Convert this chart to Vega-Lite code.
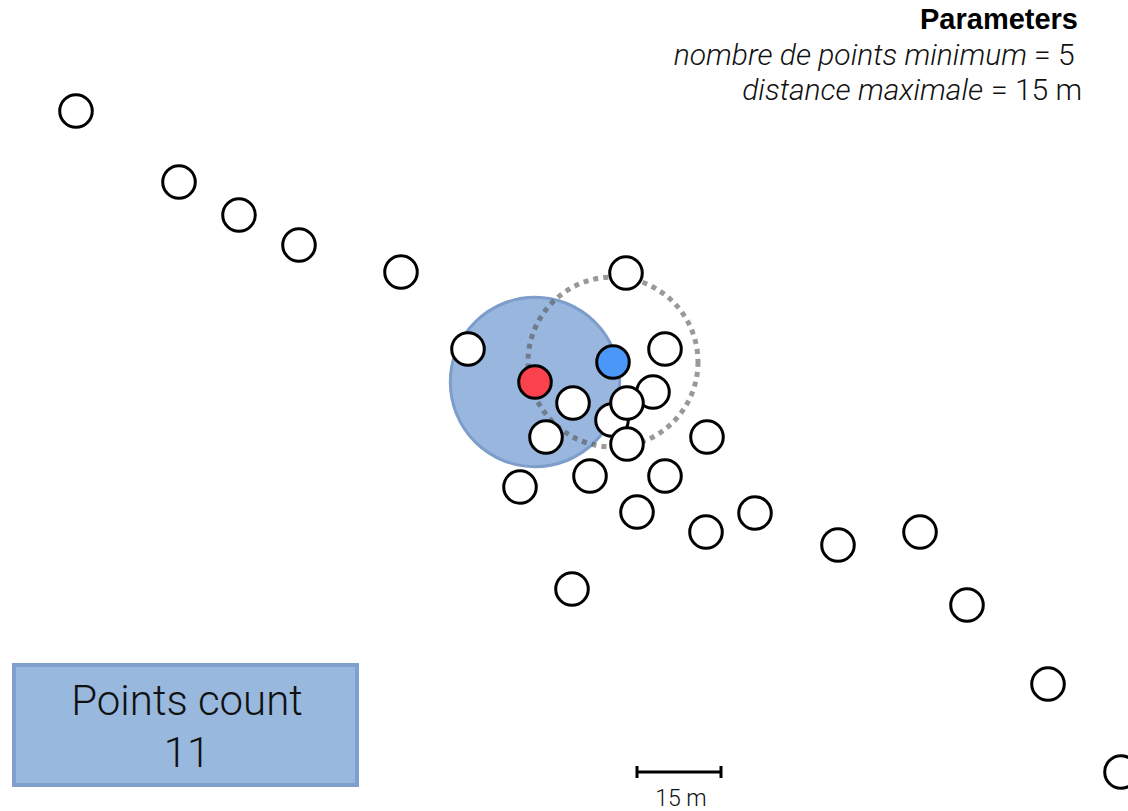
{
  "$schema": "https://vega.github.io/schema/vega-lite/v6.json",
  "width": 1128,
  "height": 811,
  "padding": 0,
  "autosize": {"type": "none"},
  "background": "white",
  "config": {"view": {"stroke": null}},
  "layer": [
    {
      "data": {"values": [{"x": 14, "x2": 357, "y": 665, "y2": 785}]},
      "mark": {"type": "rect", "fill": "#98b8de", "stroke": "#7f9fcc", "strokeWidth": 4},
      "encoding": {
        "x": {"field": "x", "type": "quantitative", "scale": {"domain": [0, 1128]}, "axis": null},
        "x2": {"field": "x2"},
        "y": {"field": "y", "type": "quantitative", "scale": {"domain": [0, 811], "reverse": true}, "axis": null},
        "y2": {"field": "y2"}
      }
    },
    {
      "data": {"values": [{"x": 535, "y": 382}]},
      "mark": {"type": "point", "shape": "circle", "filled": true, "size": 28700, "fill": "#98b6de", "fillOpacity": 1, "stroke": "#7d9dca", "strokeWidth": 3, "opacity": 1},
      "encoding": {
        "x": {"field": "x", "type": "quantitative", "scale": {"domain": [0, 1128]}, "axis": null},
        "y": {"field": "y", "type": "quantitative", "scale": {"domain": [0, 811], "reverse": true}, "axis": null}
      }
    },
    {
      "data": {"values": [{"x": 613, "y": 362}]},
      "mark": {"type": "point", "shape": "circle", "filled": false, "size": 28900, "stroke": "#555555", "strokeOpacity": 0.6, "strokeWidth": 5, "strokeDash": [5, 5], "opacity": 1},
      "encoding": {
        "x": {"field": "x", "type": "quantitative", "scale": {"domain": [0, 1128]}, "axis": null},
        "y": {"field": "y", "type": "quantitative", "scale": {"domain": [0, 811], "reverse": true}, "axis": null}
      }
    },
    {
      "data": {"values": [
        {"x": 76, "y": 111, "kind": "other"},
        {"x": 179, "y": 182, "kind": "other"},
        {"x": 239, "y": 215, "kind": "other"},
        {"x": 299, "y": 245, "kind": "other"},
        {"x": 401, "y": 272, "kind": "other"},
        {"x": 626, "y": 273, "kind": "other"},
        {"x": 468, "y": 349, "kind": "other"},
        {"x": 665, "y": 349, "kind": "other"},
        {"x": 612, "y": 420, "kind": "other"},
        {"x": 653, "y": 392, "kind": "other"},
        {"x": 573, "y": 403, "kind": "other"},
        {"x": 546, "y": 437, "kind": "other"},
        {"x": 707, "y": 437, "kind": "other"},
        {"x": 590, "y": 476, "kind": "other"},
        {"x": 665, "y": 476, "kind": "other"},
        {"x": 520, "y": 487, "kind": "other"},
        {"x": 637, "y": 512, "kind": "other"},
        {"x": 706, "y": 532, "kind": "other"},
        {"x": 755, "y": 513, "kind": "other"},
        {"x": 838, "y": 545, "kind": "other"},
        {"x": 920, "y": 532, "kind": "other"},
        {"x": 967, "y": 605, "kind": "other"},
        {"x": 572, "y": 589, "kind": "other"},
        {"x": 1048, "y": 684, "kind": "other"},
        {"x": 1121, "y": 772, "kind": "other"},
        {"x": 627, "y": 403, "kind": "other"},
        {"x": 627, "y": 444, "kind": "other"},
        {"x": 535, "y": 382, "kind": "core"},
        {"x": 613, "y": 362, "kind": "neighbour"}
      ]},
      "mark": {"type": "point", "shape": "circle", "filled": true, "size": 1060, "stroke": "black", "strokeWidth": 3, "opacity": 1, "fillOpacity": 1},
      "encoding": {
        "x": {"field": "x", "type": "quantitative", "scale": {"domain": [0, 1128]}, "axis": null},
        "y": {"field": "y", "type": "quantitative", "scale": {"domain": [0, 811], "reverse": true}, "axis": null},
        "fill": {"field": "kind", "type": "nominal", "scale": {"domain": ["other", "core", "neighbour"], "range": ["#ffffff", "#f9424d", "#4a97f7"]}, "legend": null}
      }
    },
    {
      "data": {"values": [{"x": 636, "x2": 722, "y": 772}]},
      "mark": {"type": "rule", "stroke": "black", "strokeWidth": 3},
      "encoding": {
        "x": {"field": "x", "type": "quantitative", "scale": {"domain": [0, 1128]}, "axis": null},
        "x2": {"field": "x2"},
        "y": {"field": "y", "type": "quantitative", "scale": {"domain": [0, 811], "reverse": true}, "axis": null}
      }
    },
    {
      "data": {"values": [{"x": 637, "y": 766, "y2": 778}, {"x": 721, "y": 766, "y2": 778}]},
      "mark": {"type": "rule", "stroke": "black", "strokeWidth": 3},
      "encoding": {
        "x": {"field": "x", "type": "quantitative", "scale": {"domain": [0, 1128]}, "axis": null},
        "y": {"field": "y", "type": "quantitative", "scale": {"domain": [0, 811], "reverse": true}, "axis": null},
        "y2": {"field": "y2"}
      }
    },
    {
      "data": {"values": [{"x": 681, "y": 806, "label": "15 m"}]},
      "mark": {"type": "text", "font": "Roboto", "fontWeight": 300, "fontSize": 23, "align": "center", "baseline": "alphabetic", "color": "#111111"},
      "encoding": {
        "x": {"field": "x", "type": "quantitative", "scale": {"domain": [0, 1128]}, "axis": null},
        "y": {"field": "y", "type": "quantitative", "scale": {"domain": [0, 811], "reverse": true}, "axis": null},
        "text": {"field": "label"}
      }
    },
    {
      "data": {"values": [{"x": 187, "y": 715, "label": "Points count"}, {"x": 187, "y": 767, "label": "11"}]},
      "mark": {"type": "text", "font": "Roboto", "fontWeight": 300, "fontSize": 42, "align": "center", "baseline": "alphabetic", "color": "#111111"},
      "encoding": {
        "x": {"field": "x", "type": "quantitative", "scale": {"domain": [0, 1128]}, "axis": null},
        "y": {"field": "y", "type": "quantitative", "scale": {"domain": [0, 811], "reverse": true}, "axis": null},
        "text": {"field": "label"}
      }
    },
    {
      "data": {"values": [{"x": 1078, "y": 29, "label": "Parameters"}]},
      "mark": {"type": "text", "font": "Liberation Sans", "fontWeight": "bold", "fontSize": 29, "align": "right", "baseline": "alphabetic", "color": "#000000"},
      "encoding": {
        "x": {"field": "x", "type": "quantitative", "scale": {"domain": [0, 1128]}, "axis": null},
        "y": {"field": "y", "type": "quantitative", "scale": {"domain": [0, 811], "reverse": true}, "axis": null},
        "text": {"field": "label"}
      }
    },
    {
      "data": {"values": [{"x": 1027, "y": 65, "label": "nombre de points minimum"}, {"x": 983, "y": 100, "label": "distance maximale"}]},
      "mark": {"type": "text", "font": "Roboto", "fontWeight": 300, "fontStyle": "italic", "fontSize": 30, "align": "right", "baseline": "alphabetic", "color": "#111111"},
      "encoding": {
        "x": {"field": "x", "type": "quantitative", "scale": {"domain": [0, 1128]}, "axis": null},
        "y": {"field": "y", "type": "quantitative", "scale": {"domain": [0, 811], "reverse": true}, "axis": null},
        "text": {"field": "label"}
      }
    },
    {
      "data": {"values": [{"x": 1034, "y": 65, "label": "= 5"}, {"x": 991, "y": 100, "label": "= 15 m"}]},
      "mark": {"type": "text", "font": "Roboto", "fontWeight": 300, "fontSize": 30, "align": "left", "baseline": "alphabetic", "color": "#111111"},
      "encoding": {
        "x": {"field": "x", "type": "quantitative", "scale": {"domain": [0, 1128]}, "axis": null},
        "y": {"field": "y", "type": "quantitative", "scale": {"domain": [0, 811], "reverse": true}, "axis": null},
        "text": {"field": "label"}
      }
    }
  ]
}
